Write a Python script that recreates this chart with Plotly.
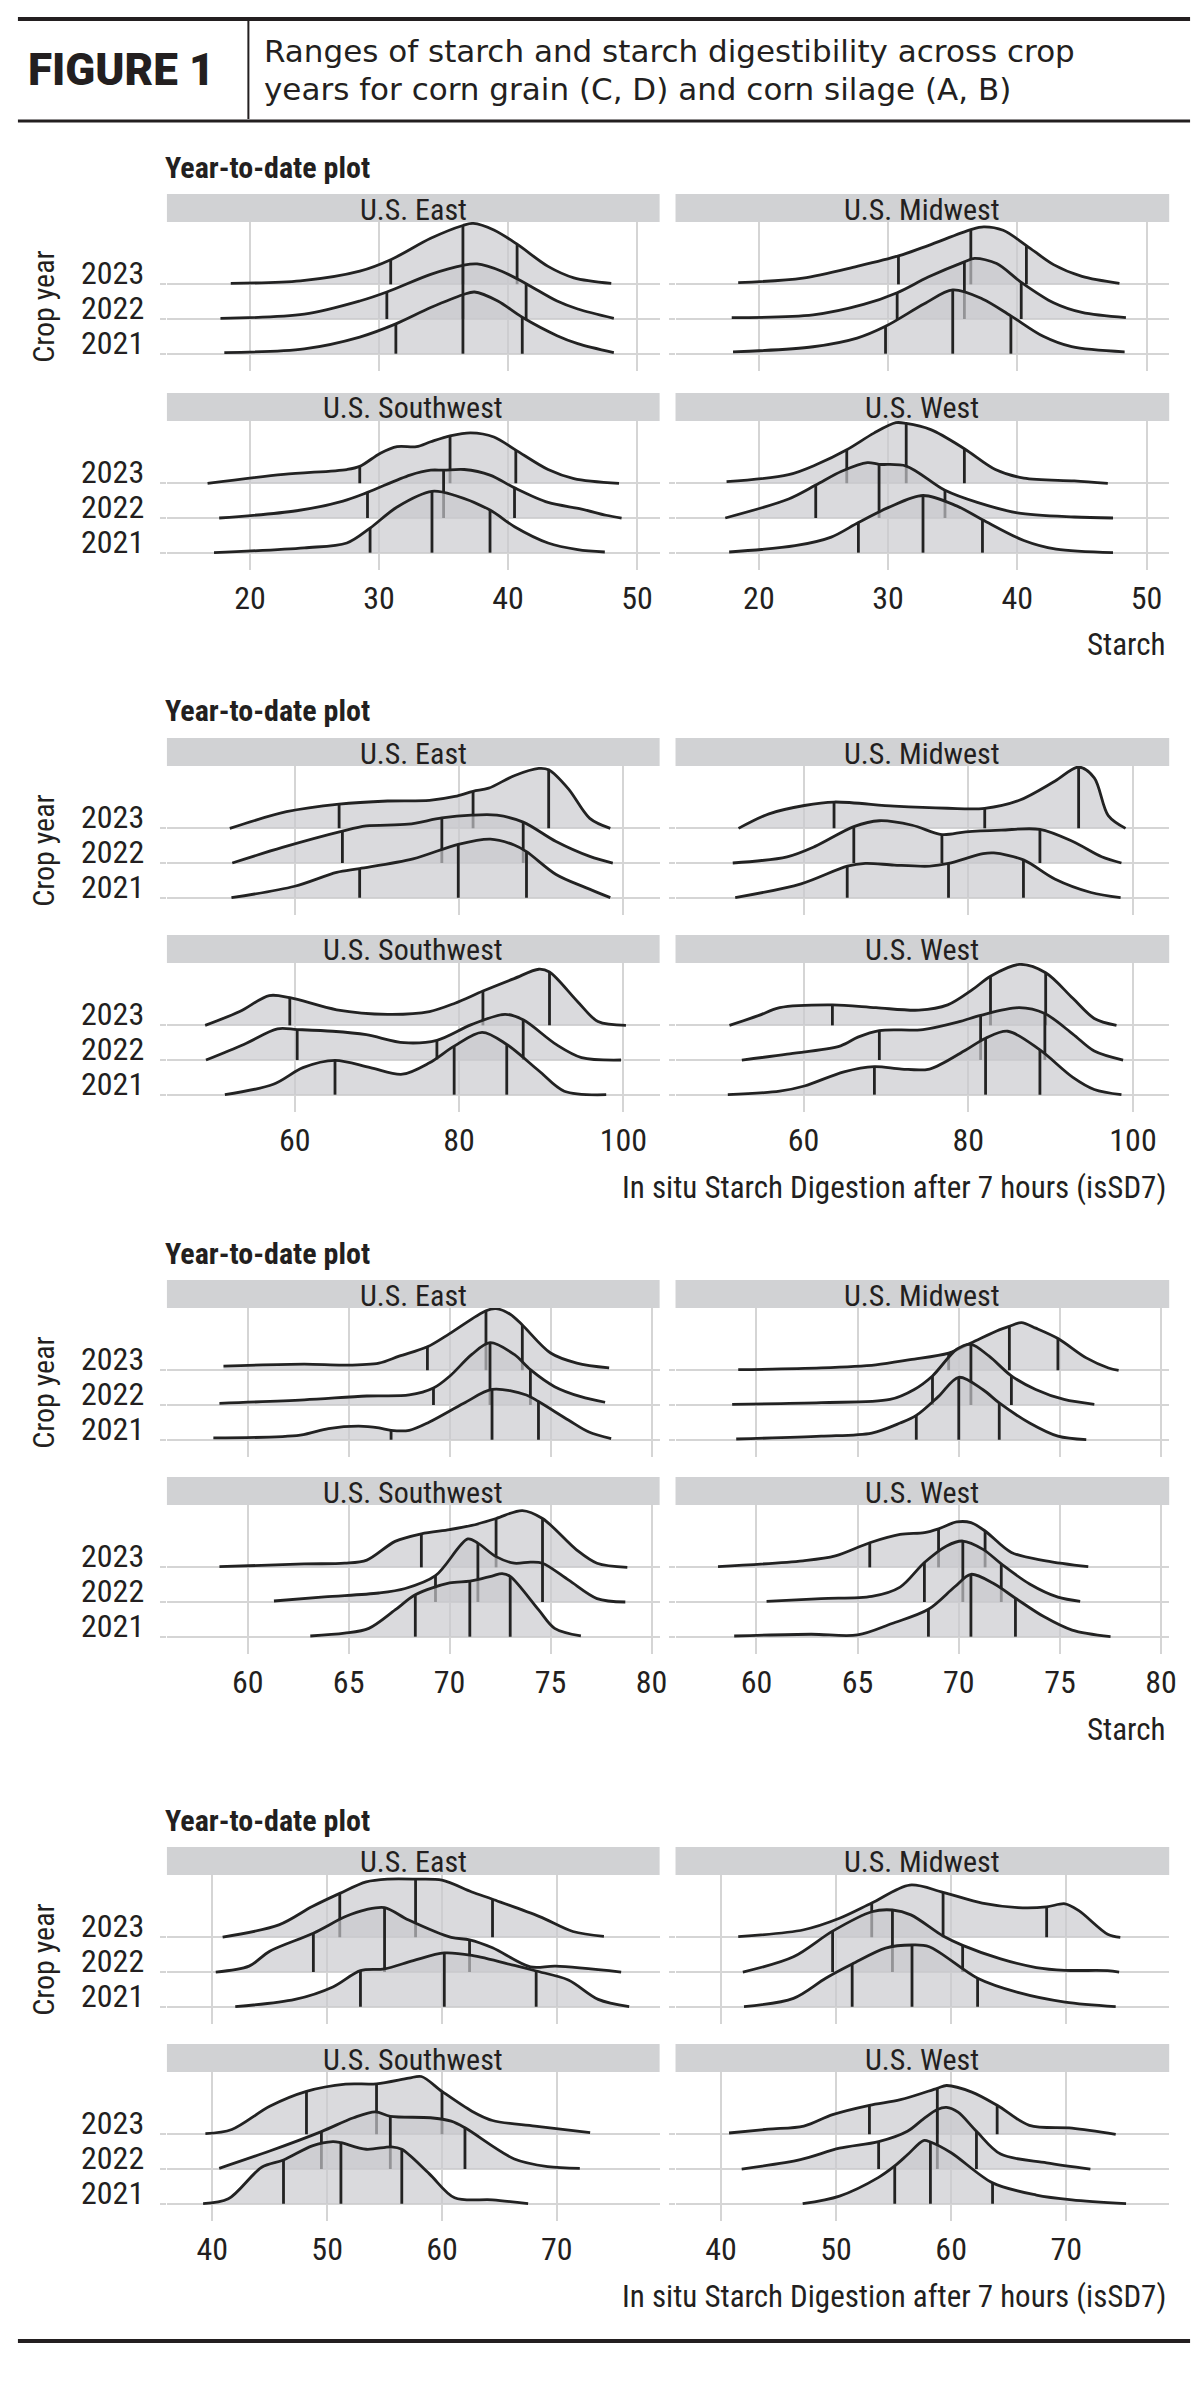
import numpy as np
import plotly.graph_objects as go

YEARS = ["2023", "2022", "2021"]
REGIONS = ["U.S. East", "U.S. Midwest", "U.S. Southwest", "U.S. West"]

# Each panel: one list per crop year (2023, 2022, 2021).
# *_x = positions along the axis, *_h = ridge height (in baseline spacings),
# *_q = quartile positions (25%, 50%, 75%).

# ---- (A) corn silage, starch ----
silage_starch_east_x = [
    [18.5, 23.9, 28.5, 30.9, 34.0, 36.5, 37.3, 38.9, 40.7, 43.1, 45.1, 48.0],
    [17.7, 24.2, 28.5, 30.6, 34.0, 36.5, 37.6, 39.5, 41.4, 43.8, 45.4, 48.2],
    [18.0, 24.2, 28.5, 31.3, 34.0, 36.5, 37.4, 39.2, 41.1, 43.8, 45.4, 48.2],
]
silage_starch_east_h = [
    [0.03, 0.10, 0.38, 0.71, 1.33, 1.70, 1.76, 1.57, 1.16, 0.52, 0.19, 0.03],
    [0.02, 0.14, 0.52, 0.78, 1.29, 1.55, 1.59, 1.38, 1.02, 0.52, 0.29, 0.02],
    [0.03, 0.14, 0.48, 0.86, 1.33, 1.70, 1.78, 1.52, 1.05, 0.52, 0.29, 0.03],
]
silage_starch_east_q = [[30.9, 36.5, 40.7], [30.6, 36.5, 41.4], [31.3, 36.5, 41.1]]

silage_starch_midwest_x = [
    [18.4, 23.4, 27.6, 30.8, 33.1, 36.4, 37.4, 38.9, 40.7, 42.8, 45.0, 47.9],
    [17.9, 24.2, 28.1, 30.7, 33.1, 35.9, 36.7, 38.4, 40.3, 42.8, 45.0, 48.4],
    [18.0, 24.2, 27.6, 29.8, 32.8, 35.0, 37.3, 39.5, 42.0, 44.2, 48.3],
]
silage_starch_midwest_h = [
    [0.05, 0.18, 0.52, 0.82, 1.12, 1.58, 1.66, 1.56, 1.12, 0.57, 0.23, 0.03],
    [0.04, 0.12, 0.42, 0.76, 1.21, 1.65, 1.75, 1.60, 1.06, 0.47, 0.19, 0.04],
    [0.05, 0.20, 0.45, 0.79, 1.44, 1.84, 1.58, 1.09, 0.50, 0.20, 0.05],
]
silage_starch_midwest_q = [[30.8, 36.4, 40.7], [30.7, 35.9, 40.3], [29.8, 35.0, 39.5]]

silage_starch_southwest_x = [
    [16.7, 22.6, 27.5, 28.5, 30.1, 31.4, 32.9, 34.0, 35.5, 37.1, 38.9, 40.6, 43.1, 45.1, 48.6],
    [17.6, 23.6, 27.2, 29.1, 32.4, 34.0, 35.0, 36.6, 38.6, 40.5, 43.1, 45.7, 47.6, 48.8],
    [17.2, 24.2, 27.5, 29.3, 31.4, 34.1, 35.9, 38.6, 40.5, 43.1, 45.4, 47.5],
]
silage_starch_southwest_h = [
    [0.0, 0.26, 0.40, 0.49, 0.87, 1.06, 1.06, 1.20, 1.37, 1.46, 1.34, 0.96, 0.40, 0.14, 0.0],
    [0.0, 0.21, 0.49, 0.74, 1.24, 1.38, 1.38, 1.40, 1.24, 0.87, 0.45, 0.26, 0.08, 0.0],
    [0.0, 0.14, 0.28, 0.71, 1.32, 1.77, 1.65, 1.23, 0.75, 0.28, 0.09, 0.02],
]
silage_starch_southwest_q = [[28.5, 35.5, 40.6], [29.1, 35.0, 40.5], [29.3, 34.1, 38.6]]

silage_starch_west_x = [
    [17.5, 22.3, 24.5, 26.8, 28.9, 30.6, 31.4, 33.3, 35.9, 38.3, 40.5, 44.4, 47.0],
    [17.4, 22.3, 24.4, 26.4, 28.4, 29.3, 31.4, 34.4, 36.9, 40.0, 44.4, 47.4],
    [17.7, 22.8, 25.6, 27.7, 30.0, 32.7, 35.3, 37.3, 40.5, 43.0, 47.4],
]
silage_starch_west_h = [
    [0.05, 0.25, 0.55, 0.97, 1.45, 1.75, 1.73, 1.55, 1.00, 0.40, 0.15, 0.07, 0.0],
    [0.0, 0.55, 0.95, 1.35, 1.60, 1.55, 1.50, 0.80, 0.45, 0.15, 0.03, 0.0],
    [0.02, 0.20, 0.45, 0.87, 1.30, 1.65, 1.35, 0.95, 0.35, 0.10, 0.0],
]
silage_starch_west_q = [[26.8, 31.4, 35.9], [24.4, 29.3, 34.4], [27.7, 32.7, 37.3]]

# ---- (B) corn silage, isSD7 ----
silage_issd7_east_x = [
    [52.1, 59.0, 65.4, 71.3, 76.4, 79.5, 81.7, 83.6, 86.7, 89.7, 90.9, 93.3, 95.9, 98.4],
    [52.4, 58.5, 65.8, 68.7, 73.8, 77.9, 81.5, 84.6, 87.8, 91.8, 95.9, 98.7],
    [52.3, 60.0, 65.1, 67.9, 74.4, 79.9, 83.8, 86.7, 88.2, 91.8, 95.4, 98.4],
]
silage_issd7_east_h = [
    [0.0, 0.48, 0.70, 0.79, 0.81, 0.92, 1.07, 1.16, 1.52, 1.73, 1.69, 1.14, 0.29, 0.0],
    [0.0, 0.45, 0.92, 1.07, 1.12, 1.30, 1.38, 1.38, 1.18, 0.62, 0.19, 0.0],
    [0.0, 0.33, 0.73, 0.84, 1.12, 1.54, 1.69, 1.52, 1.33, 0.67, 0.29, 0.0],
]
silage_issd7_east_q = [[65.4, 81.7, 90.9], [65.8, 77.9, 87.8], [67.9, 79.9, 88.2]]

silage_issd7_midwest_x = [
    [52.1, 55.8, 60.1, 63.7, 71.0, 77.5, 82.0, 86.2, 90.5, 93.4, 95.3, 97.0, 99.1],
    [51.4, 58.0, 61.4, 66.1, 69.2, 73.2, 76.8, 79.7, 84.0, 88.7, 92.7, 96.2, 98.6],
    [51.7, 59.7, 65.3, 67.5, 71.0, 75.3, 77.6, 81.8, 83.1, 86.7, 90.5, 94.9, 98.5],
]
silage_issd7_midwest_h = [
    [0.0, 0.42, 0.66, 0.76, 0.64, 0.58, 0.58, 0.81, 1.36, 1.77, 1.46, 0.37, 0.0],
    [0.0, 0.18, 0.48, 1.05, 1.22, 1.09, 0.82, 0.90, 0.95, 0.97, 0.62, 0.18, 0.0],
    [0.0, 0.40, 0.91, 0.99, 0.94, 0.91, 0.99, 1.27, 1.29, 1.09, 0.54, 0.15, 0.0],
]
silage_issd7_midwest_q = [[63.7, 82.0, 93.4], [66.1, 76.8, 88.7], [65.3, 77.6, 86.7]]

silage_issd7_southwest_x = [
    [49.1, 53.3, 56.9, 59.4, 65.1, 71.3, 76.4, 79.5, 82.9, 86.7, 89.7, 91.0, 94.4, 96.9, 100.3],
    [49.2, 53.8, 57.9, 60.3, 64.6, 68.7, 73.3, 77.3, 81.5, 85.6, 87.8, 91.8, 94.9, 99.7],
    [51.5, 57.4, 61.0, 64.9, 69.2, 73.1, 76.4, 79.4, 82.8, 85.8, 89.7, 92.8, 97.9],
]
silage_issd7_southwest_h = [
    [0.0, 0.40, 0.86, 0.80, 0.45, 0.32, 0.40, 0.64, 0.99, 1.35, 1.62, 1.54, 0.69, 0.11, 0.0],
    [0.0, 0.45, 0.90, 0.88, 0.83, 0.73, 0.50, 0.57, 1.02, 1.32, 1.16, 0.45, 0.07, 0.0],
    [0.0, 0.30, 0.78, 0.99, 0.78, 0.59, 0.92, 1.40, 1.80, 1.45, 0.69, 0.10, 0.0],
]
silage_issd7_southwest_q = [[59.4, 82.9, 91.0], [60.3, 77.3, 87.8], [64.9, 79.4, 85.8]]

silage_issd7_west_x = [
    [51.0, 54.5, 57.1, 63.5, 68.8, 74.0, 77.5, 80.5, 82.7, 86.2, 89.4, 92.7, 95.3, 98.0],
    [52.5, 58.0, 64.5, 66.6, 69.2, 74.5, 78.8, 81.5, 86.2, 89.3, 92.7, 95.3, 98.8],
    [50.8, 57.1, 60.1, 64.9, 68.6, 71.9, 75.3, 79.7, 82.1, 84.8, 88.7, 92.7, 95.3, 98.6],
]
silage_issd7_west_h = [
    [0.0, 0.28, 0.51, 0.59, 0.51, 0.44, 0.59, 1.03, 1.42, 1.76, 1.52, 0.78, 0.20, 0.0],
    [0.0, 0.17, 0.41, 0.66, 0.85, 0.88, 1.10, 1.29, 1.51, 1.34, 0.75, 0.26, 0.0],
    [0.0, 0.10, 0.25, 0.66, 0.81, 0.74, 0.74, 1.29, 1.63, 1.83, 1.29, 0.50, 0.15, 0.0],
]
silage_issd7_west_q = [[63.5, 82.7, 89.4], [69.2, 81.5, 89.3], [68.6, 82.1, 88.7]]

# ---- (C) corn grain, starch ----
grain_starch_east_x = [
    [58.8, 62.8, 64.8, 66.5, 67.5, 68.9, 70.0, 71.8, 72.3, 73.0, 73.6, 75.0, 76.3, 77.9],
    [58.6, 62.8, 65.9, 68.0, 69.2, 70.0, 71.1, 72.0, 73.2, 74.0, 75.2, 76.5, 77.7],
    [58.3, 62.6, 64.0, 65.5, 66.5, 67.1, 68.0, 69.0, 70.7, 72.1, 73.8, 74.4, 75.9, 76.9, 78.0],
]
grain_starch_east_h = [
    [0.12, 0.18, 0.15, 0.21, 0.41, 0.68, 1.06, 1.72, 1.78, 1.62, 1.31, 0.50, 0.21, 0.07],
    [0.05, 0.15, 0.26, 0.29, 0.49, 0.83, 1.46, 1.80, 1.46, 1.02, 0.53, 0.24, 0.08],
    [0.05, 0.13, 0.32, 0.39, 0.34, 0.27, 0.27, 0.51, 1.05, 1.45, 1.29, 1.10, 0.56, 0.22, 0.03],
]
grain_starch_east_q = [[68.9, 71.8, 73.6], [69.2, 72.0, 74.0], [67.1, 72.1, 74.4]]

grain_starch_midwest_x = [
    [59.1, 63.2, 65.9, 67.6, 69.5, 70.6, 72.0, 72.5, 73.1, 73.8, 74.9, 76.3, 77.4, 77.9],
    [58.8, 63.2, 66.6, 67.8, 68.7, 69.9, 70.6, 71.5, 72.6, 73.8, 75.2, 76.7],
    [59.0, 63.2, 65.7, 67.1, 67.9, 69.0, 70.0, 71.2, 72.0, 73.5, 74.9, 76.3],
]
grain_starch_midwest_h = [
    [0.02, 0.07, 0.16, 0.31, 0.50, 0.79, 1.17, 1.27, 1.38, 1.22, 0.92, 0.36, 0.07, 0.0],
    [0.02, 0.07, 0.16, 0.45, 0.84, 1.61, 1.75, 1.41, 0.84, 0.45, 0.16, 0.02],
    [0.02, 0.10, 0.19, 0.48, 0.70, 1.25, 1.80, 1.44, 1.06, 0.48, 0.10, 0.0],
]
grain_starch_midwest_q = [[69.5, 72.5, 74.9], [68.7, 70.6, 72.6], [67.9, 70.0, 72.0]]

grain_starch_southwest_x = [
    [58.6, 62.8, 64.8, 65.9, 67.3, 68.6, 70.0, 71.1, 72.3, 73.6, 74.6, 76.3, 77.3, 78.8],
    [61.3, 63.8, 66.5, 67.8, 69.3, 70.9, 71.4, 72.3, 73.2, 74.0, 74.6, 75.9, 77.3, 78.7],
    [63.1, 64.8, 66.0, 67.3, 68.3, 70.0, 71.0, 72.1, 72.6, 73.0, 74.4, 75.2, 76.5],
]
grain_starch_southwest_h = [
    [0.02, 0.10, 0.12, 0.21, 0.75, 0.97, 1.09, 1.21, 1.41, 1.64, 1.41, 0.50, 0.12, 0.0],
    [0.03, 0.15, 0.26, 0.39, 0.76, 1.82, 1.70, 1.31, 1.12, 1.15, 1.12, 0.63, 0.10, 0.0],
    [0.02, 0.10, 0.24, 0.77, 1.21, 1.55, 1.60, 1.75, 1.82, 1.74, 0.78, 0.24, 0.02],
]
grain_starch_southwest_q = [[68.6, 72.3, 74.6], [69.3, 71.4, 74.6], [68.3, 71.0, 73.0]]

grain_starch_west_x = [
    [58.1, 62.3, 63.9, 65.6, 67.1, 68.3, 69.0, 69.9, 70.6, 71.3, 72.6, 74.3, 76.4],
    [60.5, 63.2, 65.7, 67.1, 68.3, 69.4, 70.2, 71.2, 72.1, 73.5, 74.9, 76.0],
    [58.9, 62.7, 65.0, 66.7, 68.5, 69.8, 70.6, 71.7, 72.8, 74.2, 75.6, 77.5],
]
grain_starch_west_h = [
    [0.02, 0.19, 0.33, 0.71, 0.95, 1.00, 1.11, 1.31, 1.29, 1.05, 0.43, 0.19, 0.02],
    [0.02, 0.10, 0.16, 0.43, 1.14, 1.62, 1.76, 1.52, 1.10, 0.52, 0.14, 0.02],
    [0.02, 0.07, 0.05, 0.38, 0.79, 1.44, 1.80, 1.54, 1.11, 0.58, 0.19, 0.0],
]
grain_starch_west_q = [[65.6, 69.0, 71.3], [68.3, 70.2, 72.1], [68.5, 70.6, 72.8]]

# ---- (D) corn grain, isSD7 ----
grain_issd7_east_x = [
    [40.9, 45.8, 48.7, 51.1, 53.4, 55.3, 57.7, 60.0, 62.6, 64.4, 68.5, 71.4, 74.1],
    [40.3, 43.2, 45.0, 48.8, 51.6, 53.4, 55.0, 57.1, 60.8, 62.4, 64.4, 67.7, 69.9, 75.6],
    [42.0, 47.2, 50.5, 52.9, 55.0, 57.5, 60.2, 62.6, 66.3, 68.2, 71.0, 73.6, 76.3],
]
grain_issd7_east_h = [
    [0.01, 0.36, 0.89, 1.27, 1.60, 1.68, 1.68, 1.65, 1.31, 1.10, 0.60, 0.17, 0.03],
    [0.0, 0.17, 0.60, 1.12, 1.60, 1.80, 1.86, 1.50, 1.00, 0.93, 0.70, 0.15, 0.17, 0.0],
    [0.0, 0.21, 0.57, 1.04, 1.09, 1.33, 1.55, 1.48, 1.19, 1.03, 0.77, 0.21, 0.0],
]
grain_issd7_east_q = [[51.1, 57.7, 64.4], [48.8, 55.0, 62.4], [52.9, 60.2, 68.2]]

grain_issd7_midwest_x = [
    [41.5, 47.2, 50.3, 53.1, 56.4, 59.3, 62.7, 65.8, 68.3, 69.9, 71.1, 73.6, 74.7],
    [41.9, 46.3, 49.7, 53.1, 54.9, 56.5, 59.3, 61.0, 64.3, 67.4, 69.9, 73.6, 74.6],
    [42.0, 46.3, 49.1, 51.4, 54.3, 56.6, 58.1, 62.3, 65.8, 69.9, 74.3],
]
grain_issd7_midwest_h = [
    [0.02, 0.22, 0.55, 0.99, 1.51, 1.30, 0.99, 0.86, 0.88, 0.97, 0.77, 0.09, 0.0],
    [0.0, 0.44, 1.18, 1.74, 1.79, 1.65, 1.04, 0.77, 0.38, 0.13, 0.05, 0.04, 0.0],
    [0.0, 0.24, 0.82, 1.23, 1.69, 1.78, 1.73, 0.82, 0.41, 0.13, 0.0],
]
grain_issd7_midwest_q = [[53.1, 59.3, 68.3], [49.7, 54.9, 61.0], [51.4, 56.6, 62.3]]

grain_issd7_southwest_x = [
    [39.4, 41.7, 45.0, 48.2, 51.6, 54.3, 57.1, 58.2, 60.0, 62.6, 64.4, 68.1, 72.9],
    [40.6, 45.0, 49.5, 52.3, 54.2, 55.5, 59.0, 60.8, 62.0, 66.3, 69.2, 72.0],
    [39.2, 41.4, 44.3, 46.2, 48.7, 50.5, 51.2, 53.4, 55.6, 56.5, 58.9, 61.1, 64.4, 67.5],
]
grain_issd7_southwest_h = [
    [0.02, 0.14, 0.81, 1.24, 1.45, 1.46, 1.62, 1.67, 1.24, 0.67, 0.40, 0.24, 0.05],
    [0.02, 0.52, 1.08, 1.48, 1.65, 1.52, 1.48, 1.38, 1.19, 0.29, 0.07, 0.02],
    [0.0, 0.14, 1.05, 1.26, 1.67, 1.79, 1.76, 1.57, 1.64, 1.57, 0.86, 0.17, 0.11, 0.0],
]
grain_issd7_southwest_q = [[48.2, 54.3, 60.0], [49.5, 55.5, 62.0], [46.2, 51.2, 56.5]]

grain_issd7_west_x = [
    [40.7, 44.1, 47.2, 49.7, 52.9, 55.6, 58.8, 59.6, 61.8, 64.0, 66.8, 70.5, 74.3],
    [41.8, 46.9, 50.3, 53.7, 56.2, 57.6, 58.8, 59.6, 60.6, 62.2, 64.3, 68.3, 72.1],
    [47.1, 50.3, 53.7, 55.1, 56.2, 57.6, 58.2, 60.0, 63.6, 67.4, 70.5, 75.2],
]
grain_issd7_west_h = [
    [0.04, 0.15, 0.24, 0.57, 0.84, 1.00, 1.33, 1.41, 1.22, 0.84, 0.26, 0.18, 0.0],
    [0.0, 0.27, 0.60, 0.79, 1.09, 1.45, 1.72, 1.78, 1.64, 1.09, 0.43, 0.18, 0.0],
    [0.0, 0.22, 0.76, 1.09, 1.41, 1.82, 1.78, 1.47, 0.60, 0.25, 0.11, 0.0],
]
grain_issd7_west_q = [[52.9, 58.8, 64.0], [53.7, 58.8, 62.2], [55.1, 58.2, 63.6]]

STARCH_TITLE = "Starch"
ISSD7_TITLE = "In situ Starch Digestion after 7 hours (isSD7)"

# (panels, x range, tick values, x title, strip top row 1, strip top row 2) in px
GROUPS = [
    ([(silage_starch_east_x, silage_starch_east_h, silage_starch_east_q),
      (silage_starch_midwest_x, silage_starch_midwest_h, silage_starch_midwest_q),
      (silage_starch_southwest_x, silage_starch_southwest_h, silage_starch_southwest_q),
      (silage_starch_west_x, silage_starch_west_h, silage_starch_west_q)],
     [13.55, 51.75], [20, 30, 40, 50], STARCH_TITLE, 186, 385),
    ([(silage_issd7_east_x, silage_issd7_east_h, silage_issd7_east_q),
      (silage_issd7_midwest_x, silage_issd7_midwest_h, silage_issd7_midwest_q),
      (silage_issd7_southwest_x, silage_issd7_southwest_h, silage_issd7_southwest_q),
      (silage_issd7_west_x, silage_issd7_west_h, silage_issd7_west_q)],
     [44.45, 104.4], [60, 80, 100], ISSD7_TITLE, 730, 927),
    ([(grain_starch_east_x, grain_starch_east_h, grain_starch_east_q),
      (grain_starch_midwest_x, grain_starch_midwest_h, grain_starch_midwest_q),
      (grain_starch_southwest_x, grain_starch_southwest_h, grain_starch_southwest_q),
      (grain_starch_west_x, grain_starch_west_h, grain_starch_west_q)],
     [56.0, 80.4], [60, 65, 70, 75, 80], STARCH_TITLE, 1272, 1469),
    ([(grain_issd7_east_x, grain_issd7_east_h, grain_issd7_east_q),
      (grain_issd7_midwest_x, grain_issd7_midwest_h, grain_issd7_midwest_q),
      (grain_issd7_southwest_x, grain_issd7_southwest_h, grain_issd7_southwest_q),
      (grain_issd7_west_x, grain_issd7_west_h, grain_issd7_west_q)],
     [36.05, 78.95], [40, 50, 60, 70], ISSD7_TITLE, 1839, 2036),
]

W, H = 1200, 2383
COL_X = [(160, 656), (672, 1169)]
STRIP_H = 28
PANEL_H = 149
Y_RANGE = [-0.5, 3.8]

TXT = "#231f20"
GRID = "#d5d5d5"
STRIP = "#d1d2d4"
LINE = "#222222"
FILL = "rgba(201,201,205,0.68)"
CHART_FONT = "Roboto Condensed, Roboto, Liberation Sans, sans-serif"
HEAD_FONT = "Roboto, Open Sans, sans-serif"
TITLE_FONT = "DejaVu Sans, Roboto, sans-serif"


def py(v):
    return 1 - v / H


def baseline_px(top, b):
    return top + STRIP_H + (Y_RANGE[1] - b) * PANEL_H / (Y_RANGE[1] - Y_RANGE[0])


fig = go.Figure()
layout = dict(width=W, height=H, margin=dict(l=0, r=0, t=0, b=0),
              paper_bgcolor="white", plot_bgcolor="white", showlegend=False)
shapes, annotations = [], []

for g, (panels, xr, ticks, xtitle, top1, top2) in enumerate(GROUPS):
    for p, (px_list, ph_list, pq_list) in enumerate(panels):
        n = g * 4 + p + 1
        row, col = divmod(p, 2)
        top = top1 if row == 0 else top2
        x0, x1 = COL_X[col]
        sfx = "" if n == 1 else str(n)
        xref, yref = "x" + sfx, "y" + sfx

        layout["xaxis" + sfx] = dict(
            domain=[x0 / W, x1 / W], range=xr, tickvals=ticks, anchor=yref,
            showgrid=True, gridcolor=GRID, gridwidth=2, zeroline=False,
            showline=False, ticks="", showticklabels=(row == 1),
            tickfont=dict(family=CHART_FONT, size=32, color=TXT),
            ticklabelstandoff=6, fixedrange=True)
        layout["yaxis" + sfx] = dict(
            domain=[py(top + STRIP_H + PANEL_H), py(top + STRIP_H)],
            range=Y_RANGE, tickvals=[0, 1, 2], showticklabels=False, anchor=xref,
            showgrid=True, gridcolor=GRID, gridwidth=2, zeroline=False,
            ticks="outside", ticklen=6, tickwidth=2, tickcolor=GRID, fixedrange=True)

        # facet strip
        shapes.append(dict(type="rect", xref="paper", yref="paper",
                           x0=x0 / W, x1=x1 / W, y0=py(top + STRIP_H), y1=py(top),
                           fillcolor=STRIP, line=dict(width=0), layer="below"))
        annotations.append(dict(text=REGIONS[p], xref="paper", yref="paper",
                                x=(x0 + x1) / 2 / W, y=py(top + STRIP_H / 2 + 1),
                                showarrow=False, xanchor="center", yanchor="middle",
                                font=dict(family=CHART_FONT, size=30, color=TXT)))

        # ridges, drawn from the back (2023) to the front (2021)
        for k in range(3):
            base = 2 - k
            xs = np.array(px_list[k], dtype=float)
            hs = np.array(ph_list[k], dtype=float)
            assert len(xs) == len(hs), (g, p, k)
            fig.add_trace(go.Scatter(x=xs, y=np.full(len(xs), base), mode="lines",
                                     line=dict(width=0), hoverinfo="skip",
                                     xaxis=xref, yaxis=yref))
            fig.add_trace(go.Scatter(x=xs, y=base + hs, mode="lines",
                                     line=dict(color=LINE, width=2.8, shape="spline", smoothing=0.9),
                                     fill="tonexty", fillcolor=FILL, hoverinfo="skip",
                                     xaxis=xref, yaxis=yref))
            qx, qy = [], []
            for q in pq_list[k]:
                qx += [q, q, None]
                qy += [base, base + float(np.interp(q, xs, hs)), None]
            fig.add_trace(go.Scatter(x=qx, y=qy, mode="lines",
                                     line=dict(color=LINE, width=2.8), hoverinfo="skip",
                                     xaxis=xref, yaxis=yref))

        # year labels on the left column
        if col == 0:
            for k, yr in enumerate(YEARS):
                annotations.append(dict(text=yr, xref="paper", yref="paper",
                                        x=139 / W, y=py(baseline_px(top, 2 - k)),
                                        xanchor="right", yanchor="middle", yshift=11,
                                        showarrow=False,
                                        font=dict(family=CHART_FONT, size=32, color=TXT)))

    # group-level texts
    annotations.append(dict(text="<b>Year-to-date plot</b>", xref="paper", yref="paper",
                            x=156 / W, y=py(top1 - 27), xanchor="left", yanchor="middle",
                            showarrow=False, font=dict(family=CHART_FONT, size=30, color=TXT)))
    annotations.append(dict(text="Crop year", xref="paper", yref="paper",
                            x=35 / W, y=py(baseline_px(top1, 1) - 12), textangle=-90,
                            xanchor="center", yanchor="middle", showarrow=False,
                            font=dict(family=CHART_FONT, size=30, color=TXT)))
    annotations.append(dict(text=xtitle, xref="paper", yref="paper",
                            x=1168 / W, y=py(top2 + 252), xanchor="right", yanchor="middle",
                            showarrow=False, font=dict(family=CHART_FONT, size=31, color=TXT)))

# header block
for yy, wd in [(11, 4), (113, 3), (2333, 4)]:
    shapes.append(dict(type="line", xref="paper", yref="paper", x0=10 / W, x1=1190 / W,
                       y0=py(yy), y1=py(yy), line=dict(color=TXT, width=wd)))
shapes.append(dict(type="line", xref="paper", yref="paper", x0=242 / W, x1=242 / W,
                   y0=py(13), y1=py(111), line=dict(color=TXT, width=2)))
annotations.append(dict(text="FIGURE 1", xref="paper", yref="paper", x=18 / W, y=py(62),
                        xanchor="left", yanchor="middle", showarrow=False,
                        font=dict(family=HEAD_FONT, size=44, color=TXT, weight=900)))
annotations.append(dict(text="Ranges of starch and starch digestibility across crop",
                        xref="paper", yref="paper", x=256 / W, y=py(43), xanchor="left",
                        yanchor="middle", showarrow=False,
                        font=dict(family=TITLE_FONT, size=31, color=TXT)))
annotations.append(dict(text="years for corn grain (C, D) and corn silage (A, B)",
                        xref="paper", yref="paper", x=256 / W, y=py(81), xanchor="left",
                        yanchor="middle", showarrow=False,
                        font=dict(family=TITLE_FONT, size=31, color=TXT)))

layout["shapes"] = shapes
layout["annotations"] = annotations
fig.update_layout(**layout)
fig.write_html("out.html")
